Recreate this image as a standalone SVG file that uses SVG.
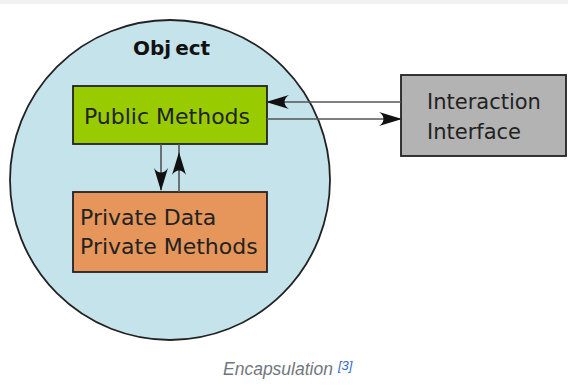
<svg xmlns="http://www.w3.org/2000/svg" width="568" height="388" viewBox="0 0 568 388">
<style>
.box{stroke:#222;stroke-width:1.8}
.lbl{font-family:"DejaVu Sans",sans-serif;font-size:22px;fill:#222}
.conn{stroke:#555;stroke-width:1.6;fill:none}
</style>
<defs>
<marker id="ah" markerUnits="userSpaceOnUse" markerWidth="30" markerHeight="20" viewBox="-24 -10 26 20" refX="0" refY="0" orient="auto" overflow="visible">
<path d="M1,0 L-22,-7 C-16,-3 -16,3 -22,7 Z" fill="#111"/>
</marker>
</defs>
<rect x="0" y="0" width="568" height="388" fill="#fff"/>
<rect x="0" y="0" width="568" height="4" fill="#f0f2f2"/>
<g id="object">
<circle cx="170" cy="180" r="160" fill="#c5e3ea" stroke="#222" stroke-width="1.8"/>
<text x="133" y="55" font-family="DejaVu Sans,sans-serif" font-size="20" font-weight="bold" fill="#111">Obj<tspan dx="4">ect</tspan></text>
</g>
<g id="public">
<rect class="box" x="73" y="86" width="194" height="58" fill="#99cc00"/>
<text class="lbl" x="167" y="124" text-anchor="middle">Public Methods</text>
</g>
<g id="private">
<rect class="box" x="73" y="192" width="194" height="80" fill="#e6965a"/>
<text class="lbl" x="80" y="225">Private Data</text>
<text class="lbl" x="80" y="254">Private Methods</text>
</g>
<g id="interface">
<rect class="box" x="401" y="75" width="165" height="81" fill="#b3b3b3"/>
<text class="lbl" x="427" y="109" style="font-size:21px">Interaction</text>
<text class="lbl" x="427" y="139" style="font-size:21px">Interface</text>
</g>
<g id="connectors">
<path class="conn" d="M401,102 H267" marker-end="url(#ah)"/>
<path class="conn" d="M267,119 H401" marker-end="url(#ah)"/>
<path class="conn" d="M161,144 V190" marker-end="url(#ah)"/>
<polyline class="conn" points="179,192 179,153 179,144" marker-mid="url(#ah)"/>
</g>
<g id="caption">
<text x="223" y="375" font-family="Liberation Sans,Arial,sans-serif" font-size="17.5" font-style="italic" fill="#72777d">Encapsulation</text>
<text x="338" y="370" font-family="Liberation Sans,Arial,sans-serif" font-size="13" font-style="italic" fill="#3366cc">[3]</text>
</g>
</svg>
